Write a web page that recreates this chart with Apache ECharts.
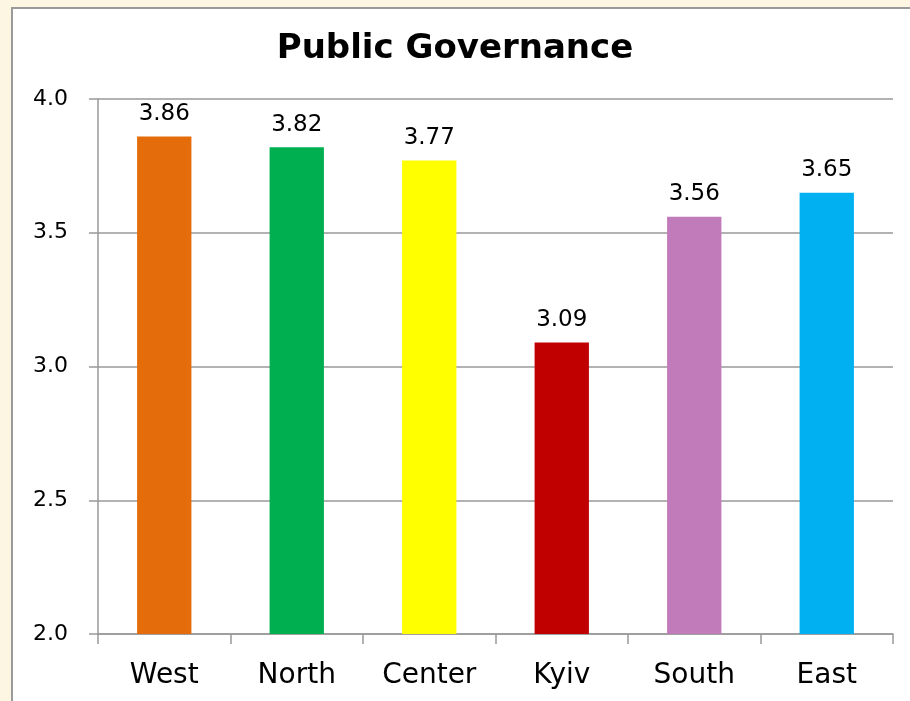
<!DOCTYPE html>
<html>
<head>
<meta charset="utf-8">
<script src="https://cdn.jsdelivr.net/npm/echarts@6/dist/echarts.min.js"></script>
<style>
  html, body { margin: 0; padding: 0; background: #fdf6e3; }
  #chart { width: 910px; height: 701px; }
</style>
</head>
<body>
<div id="chart"></div>
<script>
const regions = ["West", "North", "Center", "Kyiv", "South", "East"];
const scores = [3.86, 3.82, 3.77, 3.09, 3.56, 3.65];
const barColors = ["#e46c0a", "#00b050", "#ffff00", "#c00000", "#c17bba", "#00b0f0"];
const yTicks = [2.0, 2.5, 3.0, 3.5, 4.0];

const chart = echarts.init(document.getElementById("chart"));
const font = "DejaVu Sans";

chart.setOption({
  backgroundColor: "#fdf6e3",
  animation: false,
  graphic: [
    {
      type: "rect",
      shape: { x: 12, y: 8, width: 910, height: 710 },
      style: { fill: "#ffffff", stroke: "#9a9a9a", lineWidth: 2 },
      z: -10,
    },
  ],
  title: {
    text: "Public Governance",
    left: "center",
    top: 27,
    textStyle: { fontFamily: font, fontWeight: "bold", fontSize: 34, color: "#000" },
  },
  grid: { left: 98, right: 17, top: 99, bottom: 67 },
  xAxis: {
    type: "category",
    data: regions,
    axisLine: { lineStyle: { color: "#999", width: 1.5 } },
    axisTick: { show: true, length: 10, alignWithLabel: false, lineStyle: { color: "#999", width: 1.5 } },
    axisLabel: { fontFamily: font, fontSize: 28, color: "#000", margin: 28 },
  },
  yAxis: {
    type: "value",
    min: yTicks[0],
    max: yTicks[yTicks.length - 1],
    interval: 0.5,
    axisLine: { show: true, lineStyle: { color: "#999", width: 1.5 } },
    axisTick: { show: true, length: 9, lineStyle: { color: "#999", width: 1.5 } },
    splitLine: { lineStyle: { color: "#999", width: 1.5 } },
    axisLabel: {
      fontFamily: font, fontSize: 22, color: "#000", margin: 30,
      formatter: (v) => v.toFixed(1),
    },
  },
  series: [
    {
      type: "bar",
      data: scores.map((v, i) => ({ value: v, itemStyle: { color: barColors[i] } })),
      barWidth: "41%",
      label: {
        show: true,
        position: "top",
        distance: 11,
        fontFamily: font,
        fontSize: 23,
        color: "#000",
        formatter: (p) => p.value.toFixed(2),
      },
    },
  ],
});

window.addEventListener("resize", () => chart.resize());
</script>
</body>
</html>
